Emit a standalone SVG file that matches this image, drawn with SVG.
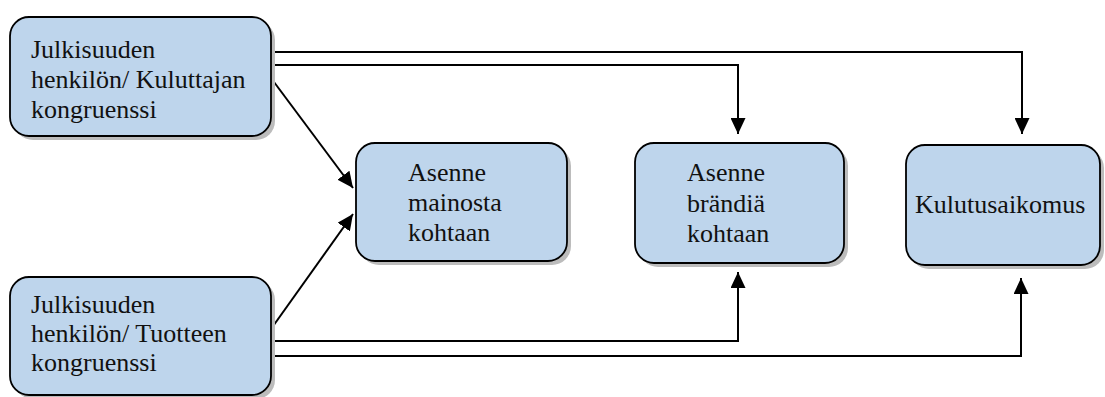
<svg xmlns="http://www.w3.org/2000/svg" width="1105" height="397" viewBox="0 0 1105 397">
<style>
.box{fill:#bed5ec;stroke:#000;stroke-width:1.8}
.shadow{fill:#bcbcbc}
.t{font-family:'Liberation Serif','Times New Roman','DejaVu Serif',serif;font-size:26px;fill:#111}
.c{fill:none;stroke:#000;stroke-width:2}
</style>
<defs>
<marker id="ah" markerUnits="userSpaceOnUse" markerWidth="17" markerHeight="15" refX="16" refY="7.5" orient="auto">
<path d="M0,0 L16,7.5 L0,15 Z" fill="#000"/>
</marker>
</defs>
<rect width="1105" height="397" fill="#fff"/>
<g id="connectors">
<polyline class="c" points="271,52 1022,52 1022,134" marker-end="url(#ah)"/>
<polyline class="c" points="271,65 738,65 738,134" marker-end="url(#ah)"/>
<line class="c" x1="271" y1="78" x2="353" y2="188" marker-end="url(#ah)"/>
<line class="c" x1="271" y1="329" x2="353" y2="214" marker-end="url(#ah)"/>
<polyline class="c" points="271,341 738,341 738,272" marker-end="url(#ah)"/>
<polyline class="c" points="271,356 1021,356 1021,278" marker-end="url(#ah)"/>
</g>
<g id="n1">
<rect class="shadow" x="14" y="21" width="261" height="119" rx="19"/>
<rect class="box" x="10" y="17" width="261" height="119" rx="19"/>
<text class="t" font-family="Liberation Serif, serif" x="31" y="58">Julkisuuden</text>
<text class="t" font-family="Liberation Serif, serif" x="31" y="88">henkilön/ Kuluttajan</text>
<text class="t" font-family="Liberation Serif, serif" x="31" y="118">kongruenssi</text>
</g>
<g id="n2">
<rect class="shadow" x="14" y="281" width="261" height="118" rx="19"/>
<rect class="box" x="10" y="277" width="261" height="118" rx="19"/>
<text class="t" font-family="Liberation Serif, serif" x="31" y="313">Julkisuuden</text>
<text class="t" font-family="Liberation Serif, serif" x="31" y="342">henkilön/ Tuotteen</text>
<text class="t" font-family="Liberation Serif, serif" x="31" y="371">kongruenssi</text>
</g>
<g id="n3">
<rect class="shadow" x="360" y="147" width="211" height="118" rx="19"/>
<rect class="box" x="356" y="143" width="211" height="118" rx="19"/>
<text class="t" font-family="Liberation Serif, serif" x="408" y="181">Asenne</text>
<text class="t" font-family="Liberation Serif, serif" x="408" y="211">mainosta</text>
<text class="t" font-family="Liberation Serif, serif" x="408" y="241">kohtaan</text>
</g>
<g id="n4">
<rect class="shadow" x="639" y="147" width="209" height="120" rx="19"/>
<rect class="box" x="635" y="143" width="209" height="120" rx="19"/>
<text class="t" font-family="Liberation Serif, serif" x="687" y="181">Asenne</text>
<text class="t" font-family="Liberation Serif, serif" x="687" y="212">brändiä</text>
<text class="t" font-family="Liberation Serif, serif" x="687" y="242">kohtaan</text>
</g>
<g id="n5">
<rect class="shadow" x="910" y="149" width="194" height="120" rx="19"/>
<rect class="box" x="906" y="145" width="194" height="120" rx="19"/>
<text class="t" font-family="Liberation Serif, serif" x="915" y="213">Kulutusaikomus</text>
</g>
</svg>
